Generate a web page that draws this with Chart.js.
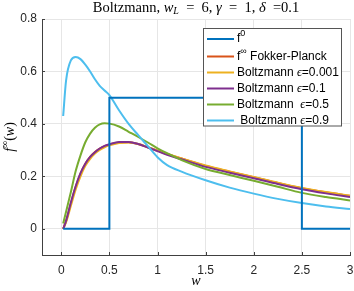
<!DOCTYPE html>
<html>
<head>
<meta charset="utf-8">
<script src="https://cdn.jsdelivr.net/npm/chart.js@4/dist/chart.umd.min.js"></script>
<style>
    html, body { margin: 0; padding: 0; background: #fff; }
    #chart { display: block; }
</style>
</head>
<body>
<canvas id="chart" width="354" height="291"></canvas>
<script>
// sample points along w
const wGrid = [0.02, 0.05, 0.1, 0.15, 0.2, 0.25, 0.3, 0.35, 0.4, 0.45, 0.5, 0.6, 0.7, 0.8, 0.9, 1.0, 1.1, 1.25, 1.5, 1.75, 2.0, 2.25, 2.5, 2.75, 3.0];

const fokkerPlanck = [0, 0.03, 0.097, 0.16, 0.21, 0.248, 0.274, 0.293, 0.306, 0.315, 0.321, 0.329, 0.33, 0.323, 0.311, 0.298, 0.285, 0.268, 0.24, 0.218, 0.197, 0.175, 0.155, 0.139, 0.126];
const boltzmann0001 = [0, 0.025, 0.088, 0.15, 0.2, 0.24, 0.267, 0.287, 0.301, 0.311, 0.318, 0.327, 0.329, 0.323, 0.311, 0.298, 0.285, 0.268, 0.241, 0.219, 0.198, 0.176, 0.156, 0.14, 0.126];
const boltzmann01 = [0, 0.03, 0.1, 0.162, 0.212, 0.248, 0.274, 0.292, 0.306, 0.316, 0.322, 0.331, 0.331, 0.323, 0.31, 0.296, 0.282, 0.265, 0.236, 0.214, 0.193, 0.171, 0.151, 0.135, 0.121];
const boltzmann05 = [0.02, 0.065, 0.14, 0.22, 0.28, 0.33, 0.363, 0.385, 0.398, 0.402, 0.401, 0.39, 0.37, 0.35, 0.329, 0.307, 0.288, 0.262, 0.228, 0.205, 0.183, 0.16, 0.137, 0.121, 0.108];
const boltzmann09 = [0.43, 0.565, 0.642, 0.655, 0.647, 0.626, 0.6, 0.57, 0.545, 0.527, 0.51, 0.452, 0.4, 0.357, 0.315, 0.273, 0.243, 0.218, 0.185, 0.157, 0.134, 0.114, 0.098, 0.085, 0.075];

// initial datum f0 (step function)
const f0W = [0.02, 0.5, 0.5, 2.5, 2.5, 3.0];
const f0Values = [0, 0, 0.5, 0.5, 0, 0];

const xTicks = [0, 0.5, 1, 1.5, 2, 2.5, 3];
const yTicks = [0, 0.2, 0.4, 0.6, 0.8];

const seriesLabels = ['f^0', 'f^∞ Fokker-Planck', 'Boltzmann ϵ=0.001', 'Boltzmann ϵ=0.1', 'Boltzmann  ϵ=0.5', ' Boltzmann ϵ=0.9'];
const seriesColors = ['#0072BD', '#D95319', '#EDB120', '#7E2F8E', '#77AC30', '#4DBEEE'];

const SANS = '"Liberation Sans", Arial, Helvetica, sans-serif';
const SERIF = '"Liberation Serif", "DejaVu Serif", serif';

function toPoints(xs, ys) {
    return xs.map((x, i) => ({ x, y: ys[i] }));
}

// draw a row of text pieces with their own fonts and vertical offsets
function drawRuns(ctx, runs, x, y, align) {
    let total = 0;
    runs.forEach((r) => {
        ctx.font = r.font;
        r.w = ctx.measureText(r.text).width;
        total += r.w;
    });
    let cx = align === 'center' ? x - total / 2 : x;
    ctx.textBaseline = 'middle';
    ctx.textAlign = 'left';
    runs.forEach((r) => {
        ctx.font = r.font;
        ctx.fillText(r.text, cx, y + (r.dy || 0));
        cx += r.w;
    });
}

function legendRuns(label) {
    const runs = [];
    let buf = '';
    const flush = () => {
        if (buf) runs.push({ text: buf, font: `12px ${SANS}` });
        buf = '';
    };
    for (let i = 0; i < label.length; i++) {
        const ch = label[i];
        if (ch === '^') {
            flush();
            runs.push({ text: label[i + 1], font: `9px ${SANS}`, dy: -5 });
            i++;
        } else if (ch === 'ϵ') {
            flush();
            runs.push({ text: ch, font: `italic 12px ${SERIF}`, dy: 0.5 });
        } else {
            buf += ch;
        }
    }
    flush();
    return runs;
}

const textPlugin = {
    id: 'texts',
    beforeDatasetsDraw(chart) {
        // inward tick marks, like the original axes
        const { ctx, chartArea, scales } = chart;
        ctx.save();
        ctx.strokeStyle = '#404040';
        ctx.lineWidth = 1;
        ctx.beginPath();
        scales.x.ticks.forEach((t) => {
            const px = Math.round(scales.x.getPixelForValue(t.value)) + 0.5;
            ctx.moveTo(px, chartArea.bottom);
            ctx.lineTo(px, chartArea.bottom - 3);
        });
        scales.y.ticks.forEach((t) => {
            const py = Math.round(scales.y.getPixelForValue(t.value)) + 0.5;
            ctx.moveTo(chartArea.left, py);
            ctx.lineTo(chartArea.left + 3, py);
        });
        ctx.stroke();
        ctx.restore();
    },
    afterDraw(chart) {
        const { ctx, chartArea } = chart;
        ctx.save();
        ctx.fillStyle = '#000';
        const midX = (chartArea.left + chartArea.right) / 2;

        const T = `14.5px ${SERIF}`;
        const TI = `italic 14.5px ${SERIF}`;
        const EQ = '\u2002=\u2002';
        drawRuns(ctx, [
            { text: 'Boltzmann, ', font: T },
            { text: 'w', font: TI },
            { text: 'L', font: `italic 10px ${SERIF}`, dy: 3 },
            { text: EQ + '6, ', font: T },
            { text: 'γ', font: TI },
            { text: EQ + '1, ', font: T },
            { text: 'δ', font: TI },
            { text: '\u2002=0.1', font: T }
        ], midX, 8, 'center');

        drawRuns(ctx, [{ text: 'w', font: `italic 14px ${SERIF}` }], midX, 281, 'center');

        ctx.save();
        ctx.translate(10, (chartArea.top + chartArea.bottom) / 2);
        ctx.rotate(-Math.PI / 2);
        drawRuns(ctx, [
            { text: 'f', font: `italic 14px ${SERIF}` },
            { text: '∞', font: `10px ${SERIF}`, dy: -5 },
            { text: '(', font: `14px ${SERIF}` },
            { text: 'w', font: `italic 14px ${SERIF}` },
            { text: ')', font: `14px ${SERIF}` }
        ], 0, 0, 'center');
        ctx.restore();

        // legend box in the upper right
        const box = { left: 203.5, top: 28.5, right: 341.5, bottom: 126 };
        ctx.fillStyle = '#fff';
        ctx.fillRect(box.left, box.top, box.right - box.left, box.bottom - box.top);
        ctx.strokeStyle = '#555';
        ctx.lineWidth = 1;
        ctx.strokeRect(box.left, box.top, box.right - box.left, box.bottom - box.top);

        chart.data.datasets.forEach((ds, i) => {
            const rowY = box.top + 10.5 + i * 16 + (i > 0 ? 1.5 : 0);
            ctx.strokeStyle = ds.borderColor;
            ctx.lineWidth = 2;
            ctx.beginPath();
            ctx.moveTo(207, rowY);
            ctx.lineTo(234, rowY);
            ctx.stroke();
            ctx.fillStyle = '#000';
            drawRuns(ctx, legendRuns(ds.label), 237, rowY, 'left');
        });
        ctx.restore();
    }
};

const curveSeries = [fokkerPlanck, boltzmann0001, boltzmann01, boltzmann05, boltzmann09];
const drawOrder = [5, 4, 3, 2, 1];

const datasets = [{
    label: seriesLabels[0],
    data: toPoints(f0W, f0Values),
    borderColor: seriesColors[0],
    borderWidth: 2,
    pointRadius: 0,
    tension: 0,
    order: 0
}].concat(curveSeries.map((values, i) => ({
    label: seriesLabels[i + 1],
    data: toPoints(wGrid, values),
    borderColor: seriesColors[i + 1],
    borderWidth: 2,
    pointRadius: 0,
    cubicInterpolationMode: 'monotone',
    order: drawOrder[i]
})));

new Chart(document.getElementById('chart'), {
    type: 'line',
    data: { datasets },
    options: {
        responsive: false,
        animation: false,
        devicePixelRatio: 1,
        layout: { padding: { top: 19, right: 4, left: 0, bottom: 0 } },
        plugins: {
            legend: { display: false },
            tooltip: { enabled: false }
        },
        scales: {
            x: {
                type: 'linear',
                min: -0.2,
                max: 3,
                afterBuildTicks: (scale) => {
                    scale.ticks = xTicks.map((value) => ({ value }));
                },
                afterFit: (scale) => {
                    scale.height = 36;
                    scale.paddingLeft = 0;
                    scale.paddingRight = 0;
                },
                grid: { color: '#e6e6e6', drawTicks: false },
                border: { color: '#404040', width: 1 },
                ticks: {
                    color: '#262626',
                    font: { family: SANS, size: 12 },
                    padding: 8,
                    maxRotation: 0,
                    callback: (v) => String(v)
                }
            },
            y: {
                type: 'linear',
                min: -0.1,
                max: 0.8,
                afterBuildTicks: (scale) => {
                    scale.ticks = yTicks.map((value) => ({ value }));
                },
                afterFit: (scale) => {
                    scale.width = 42;
                    scale.paddingTop = 0;
                    scale.paddingBottom = 0;
                },
                grid: { color: '#e6e6e6', drawTicks: false },
                border: { color: '#404040', width: 1 },
                ticks: {
                    color: '#262626',
                    font: { family: SANS, size: 12 },
                    padding: 5,
                    callback: (v) => String(+v.toFixed(2))
                }
            }
        }
    },
    plugins: [textPlugin]
});
</script>
</body>
</html>
